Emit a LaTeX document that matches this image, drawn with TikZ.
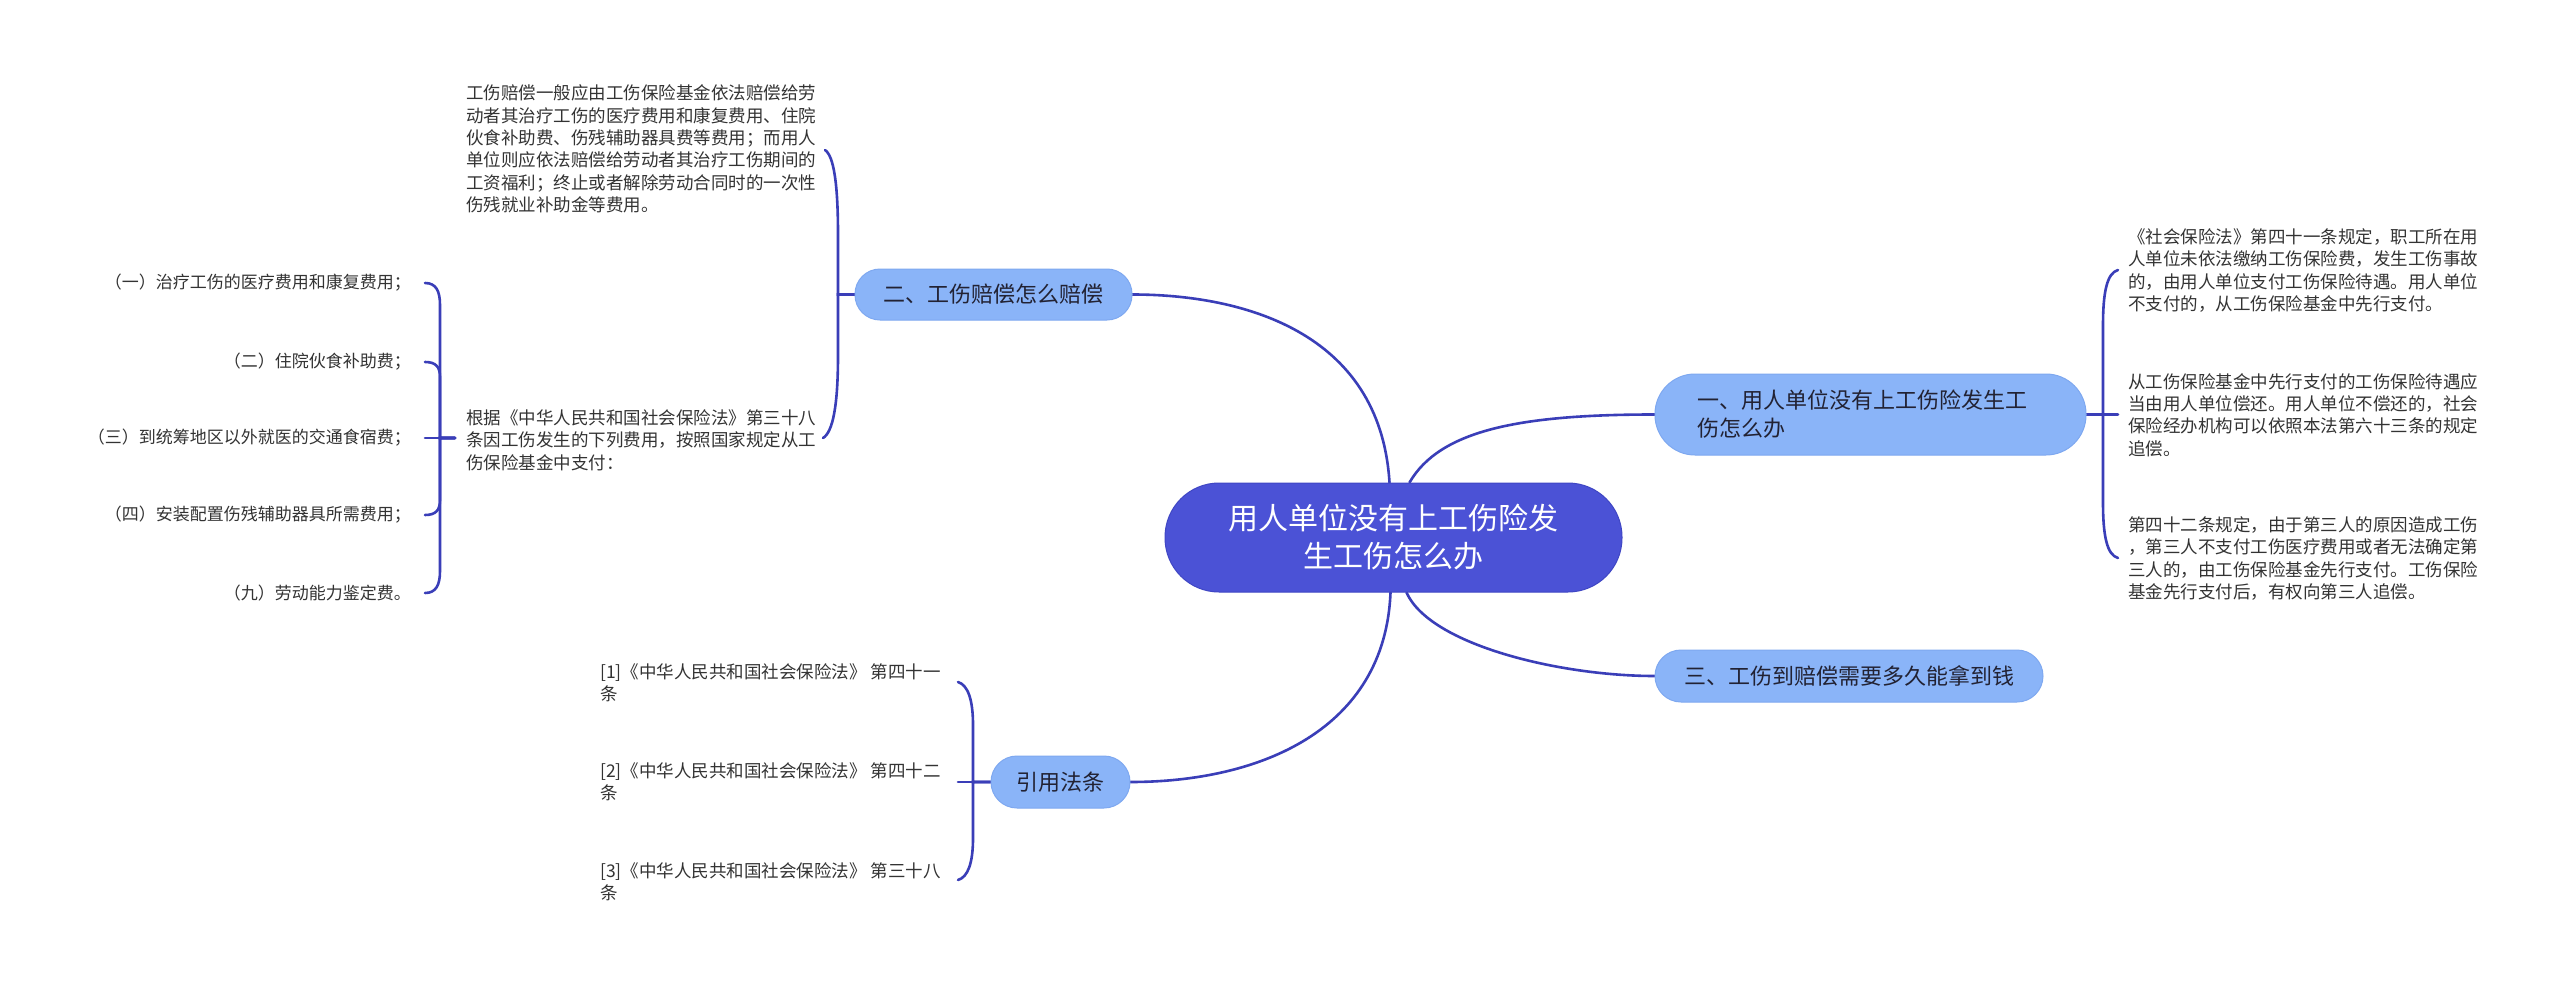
\documentclass[tikz,border=0pt]{standalone}
\usepackage{fontspec}
\setmainfont{Noto Sans CJK SC}
\usetikzlibrary{calc}
\definecolor{rootfill}{HTML}{4B52D6}
\definecolor{rootdraw}{HTML}{3F46C4}
\definecolor{topicfill}{HTML}{8AB4F8}
\definecolor{topicdraw}{HTML}{7EA8F0}
\definecolor{linkcol}{HTML}{3A3EB8}
\definecolor{leaftext}{HTML}{333333}
\definecolor{topictext}{HTML}{222233}
\pgfdeclarelayer{bg}
\pgfsetlayers{bg,main}
\begin{document}
\begin{tikzpicture}[x=1pt,y=-1pt,
  conn/.style={draw=linkcol, line width=2.6pt, line cap=round},
  rootbox/.style={fill=rootfill, draw=rootdraw, line width=1pt, text=white, align=center,
    font=\fontsize{30pt}{38pt}\selectfont, inner sep=0pt},
  topicbox/.style={fill=topicfill, draw=topicdraw, line width=1pt, text=topictext,
    font=\fontsize{22pt}{28pt}\selectfont, inner sep=0pt},
  leaftxt/.style={text=leaftext, align=left, inner sep=0pt,
    font=\fontsize{17.5pt}{22.4pt}\selectfont},
  itemtxt/.style={text=leaftext, align=right, inner sep=0pt,
    font=\fontsize{17pt}{20pt}\selectfont},
]
\useasboundingbox (0,0) rectangle (2560,987);
\begin{pgfonlayer}{bg}
\fill[white] (0,0) rectangle (2560,987);
\end{pgfonlayer}

% root and topics
\node[rootbox, minimum width=457pt, minimum height=109pt, rounded corners=54pt] (root) at (1393.5,537.5)
  {用人单位没有上工伤险发\\生工伤怎么办};
\node[topicbox, minimum width=431pt, minimum height=81pt, rounded corners=40pt,
  text width=347pt, inner xsep=42pt, align=left] (n1) at (1870.5,414.5)
  {一、用人单位没有上工伤险发生工\\伤怎么办};
\node[topicbox, minimum width=277pt, minimum height=51pt, rounded corners=25pt] (n2) at (993.5,294.5)
  {二、工伤赔偿怎么赔偿};
\node[topicbox, minimum width=388pt, minimum height=52pt, rounded corners=26pt] (n3) at (1849,676)
  {三、工伤到赔偿需要多久能拿到钱};
\node[topicbox, minimum width=139pt, minimum height=52pt, rounded corners=26pt] (n4) at (1060.5,782)
  {引用法条};

% leaves of n1
\node[leaftxt, anchor=west] (r1) at (2128,270.5)
  {《社会保险法》第四十一条规定，职工所在用\\人单位未依法缴纳工伤保险费，发生工伤事故\\的，由用人单位支付工伤保险待遇。用人单位\\不支付的，从工伤保险基金中先行支付。};
\node[leaftxt, anchor=west] (r2) at (2128,415)
  {从工伤保险基金中先行支付的工伤保险待遇应\\当由用人单位偿还。用人单位不偿还的，社会\\保险经办机构可以依照本法第六十三条的规定\\追偿。};
\node[leaftxt, anchor=west] (r3) at (2128,558.5)
  {第四十二条规定，由于第三人的原因造成工伤\\，第三人不支付工伤医疗费用或者无法确定第\\三人的，由工伤保险基金先行支付。工伤保险\\基金先行支付后，有权向第三人追偿。};

% leaves of n2
\node[leaftxt, anchor=west] (la) at (466,149)
  {工伤赔偿一般应由工伤保险基金依法赔偿给劳\\动者其治疗工伤的医疗费用和康复费用、住院\\伙食补助费、伤残辅助器具费等费用；而用人\\单位则应依法赔偿给劳动者其治疗工伤期间的\\工资福利；终止或者解除劳动合同时的一次性\\伤残就业补助金等费用。};
\node[leaftxt, anchor=west] (lb) at (466,440)
  {根据《中华人民共和国社会保险法》第三十八\\条因工伤发生的下列费用，按照国家规定从工\\伤保险基金中支付：};

% items of lb
\node[itemtxt, anchor=east] (c1) at (411,283) {（一）治疗工伤的医疗费用和康复费用；};
\node[itemtxt, anchor=east] (c2) at (411,362) {（二）住院伙食补助费；};
\node[itemtxt, anchor=east] (c3) at (411,438) {（三）到统筹地区以外就医的交通食宿费；};
\node[itemtxt, anchor=east] (c4) at (411,515) {（四）安装配置伤残辅助器具所需费用；};
\node[itemtxt, anchor=east] (c5) at (411,593) {（九）劳动能力鉴定费。};

% references
\node[leaftxt, anchor=west] (f1) at (600,682.5) {[1]《中华人民共和国社会保险法》 第四十一\\条};
\node[leaftxt, anchor=west] (f2) at (600,781.5) {[2]《中华人民共和国社会保险法》 第四十二\\条};
\node[leaftxt, anchor=west] (f3) at (600,881.5) {[3]《中华人民共和国社会保险法》 第三十八\\条};

% bracket tips
\coordinate (tr1) at (2118,270);
\coordinate (tr2) at (2118,414.5);
\coordinate (tr3) at (2118,558);
\coordinate (ta) at (825,150);
\coordinate (tb) at (823,438);
\coordinate (bj) at (455,438);
\coordinate (tc1) at (425,283);
\coordinate (tc2) at (425,362);
\coordinate (tc3) at (425,438);
\coordinate (tc4) at (425,515);
\coordinate (tc5) at (425,593);
\coordinate (tf1) at (958,682);
\coordinate (tf2) at (958,782);
\coordinate (tf3) at (958,880);

\begin{pgfonlayer}{bg}
% root to topics
\draw[conn] ($(root.north)+(-4,0)$) .. controls (1380,330) and (1240,294.5) .. (n2.east);
\draw[conn] ($(root.north)+(16,0)$) .. controls (1440,430) and (1520,414.5) .. (n1.west);
\draw[conn] ($(root.south)+(13,0)$) .. controls (1430,645) and (1560,676) .. (n3.west);
\draw[conn] ($(root.south)+(-3,0)$) .. controls (1385,730) and (1260,782) .. (n4.east);

% n1 bracket
\draw[conn] (n1.east) -- (2103,414.5) -- (2103,325) .. controls (2103,292) and (2107,273) .. (tr1);
\draw[conn] (n1.east) -- (tr2);
\draw[conn] (n1.east) -- (2103,414.5) -- (2103,503) .. controls (2103,536) and (2107,555) .. (tr3);

% n2 bracket
\draw[conn] (n2.west) -- (838,294.5) -- (838,235) .. controls (838,185) and (834,156) .. (ta);
\draw[conn] (n2.west) -- (838,294.5) -- (838,355) .. controls (838,405) and (833,432) .. (tb);

% lb bracket
\draw[conn] (bj) -- (440,438) -- (440,305) .. controls (440,291) and (436,283) .. (tc1);
\draw[conn] (bj) -- (440,438) -- (440,377) .. controls (440,367) and (436,362) .. (tc2);
\draw[conn] (bj) -- (tc3);
\draw[conn] (bj) -- (440,438) -- (440,500) .. controls (440,510) and (436,515) .. (tc4);
\draw[conn] (bj) -- (440,438) -- (440,571) .. controls (440,585) and (436,593) .. (tc5);

% n4 bracket
\draw[conn] (n4.west) -- (973,782) -- (973,725) .. controls (973,700) and (968,685) .. (tf1);
\draw[conn] (n4.west) -- (tf2);
\draw[conn] (n4.west) -- (973,782) -- (973,838) .. controls (973,863) and (968,877) .. (tf3);
\end{pgfonlayer}
\end{tikzpicture}
\end{document}
